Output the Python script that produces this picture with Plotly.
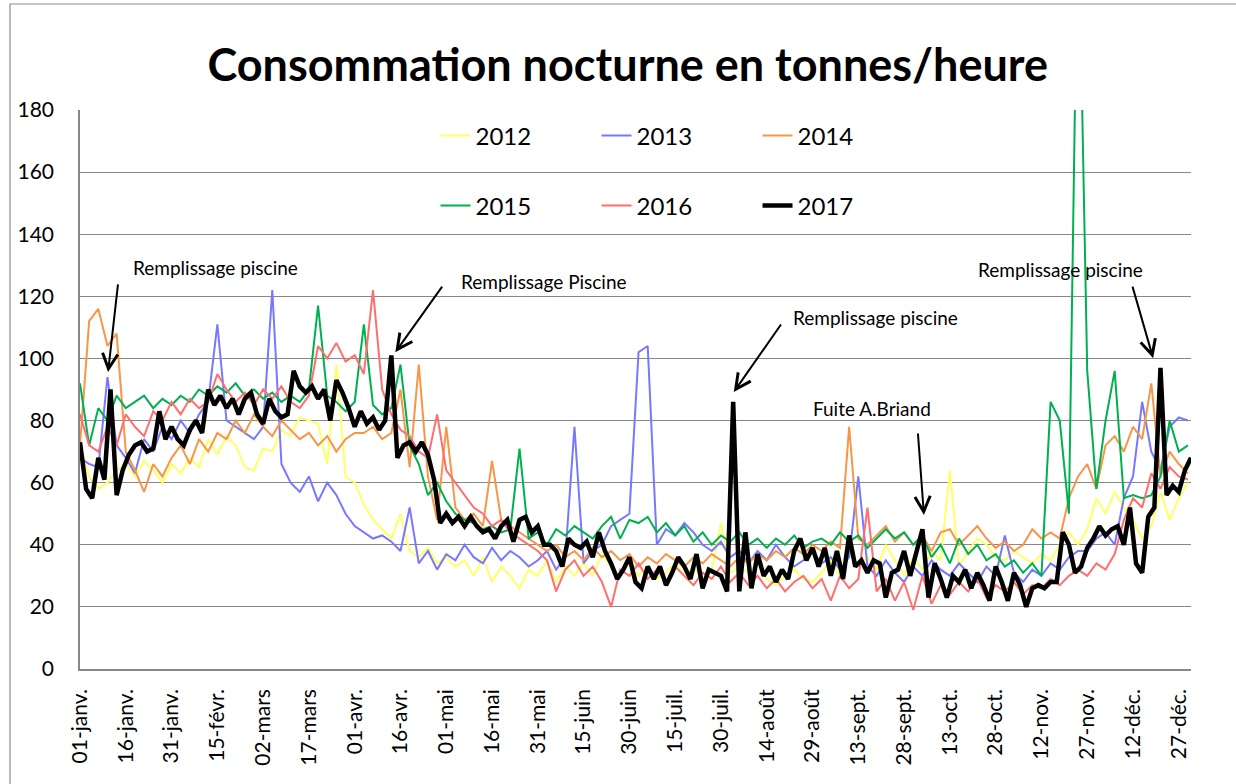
import plotly.graph_objects as go

# ---------------- data ----------------
tick_days = list(range(0, 361, 15))
tick_labels = ["01-janv.", "16-janv.", "31-janv.", "15-févr.", "02-mars", "17-mars",
               "01-avr.", "16-avr.", "01-mai", "16-mai", "31-mai", "15-juin", "30-juin",
               "15-juil.", "30-juil.", "14-août", "29-août", "13-sept.", "28-sept.",
               "13-oct.", "28-oct.", "12-nov.", "27-nov.", "12-déc.", "27-déc."]

days_3 = list(range(0, 364, 3))   # readings every 3 days (2012-2016)
days_2 = list(range(0, 365, 2))   # readings every 2 days (2017)

y2012 = [72, 62, 58, 60, 64, 66, 62, 67, 64, 60,
         66, 63, 68, 65, 74, 69, 75, 72, 65, 64,
         71, 70, 77, 75, 81, 80, 79, 66, 98, 62,
         60, 53, 48, 45, 42, 50, 38, 36, 39, 34,
         36, 33, 35, 30, 36, 28, 33, 30, 26, 32,
         30, 35, 28, 33, 30, 34, 30, 37, 33, 30,
         34, 30, 33, 29, 31, 34, 30, 33, 29, 32,
         47, 31, 33, 31, 34, 29, 27, 30, 32, 29,
         28, 31, 35, 30, 38, 33, 36, 32, 40, 35,
         30, 36, 32, 38, 35, 64, 33, 38, 42, 40,
         36, 35, 38, 36, 34, 37, 35, 40, 44, 40,
         45, 55, 50, 57, 52, 48, 42, 46, 57, 48,
         55, 60]

y2013 = [68, 66, 65, 94, 72, 68, 63, 74, 70, 78,
         74, 80, 76, 82, 86, 111, 80, 78, 76, 74,
         78, 122, 66, 60, 57, 62, 54, 60, 56, 50,
         46, 44, 42, 43, 41, 38, 52, 34, 38, 32,
         37, 35, 40, 36, 34, 39, 35, 38, 36, 33,
         35, 38, 32, 36, 78, 34, 38, 40, 46, 48,
         50, 102, 104, 40, 45, 43, 47, 44, 40, 38,
         41, 36, 38, 34, 38, 35, 40, 36, 33, 35,
         38, 34, 36, 32, 36, 62, 33, 30, 35, 31,
         28, 33, 30, 35, 32, 30, 34, 31, 28, 33,
         30, 43, 31, 28, 32, 30, 34, 32, 36, 38,
         38, 42, 44, 40, 55, 62, 86, 70, 64, 78,
         81, 80]

y2014 = [72, 112, 116, 104, 108, 70, 64, 57, 66, 62,
         68, 72, 66, 74, 70, 76, 74, 80, 76, 82,
         78, 75, 80, 77, 74, 76, 72, 75, 70, 74,
         76, 76, 78, 74, 76, 90, 65, 98, 62, 48,
         78, 52, 48, 50, 46, 67, 48, 46, 44, 42,
         40, 38, 40, 36, 38, 35, 39, 36, 38, 35,
         37, 33, 36, 34, 37, 35, 33, 36, 34, 37,
         35, 33, 36, 34, 37, 35, 38, 36, 39, 37,
         40, 38, 41, 39, 78, 42, 40, 43, 46, 41,
         44, 40, 43, 38, 44, 45, 40, 43, 46, 42,
         39, 41, 38, 40, 45, 42, 44, 42, 55, 62,
         66, 58, 72, 75, 70, 78, 74, 92, 62, 70,
         66, 63]

y2015 = [92, 72, 84, 80, 88, 84, 86, 88, 84, 87,
         85, 88, 86, 90, 88, 91, 89, 92, 88, 90,
         87, 89, 86, 88, 86, 90, 117, 88, 86, 83,
         86, 111, 85, 82, 84, 98, 72, 66, 56, 60,
         54, 50, 48, 47, 45, 46, 44, 45, 71, 42,
         44, 40, 45, 43, 46, 44, 42, 46, 49, 42,
         48, 47, 49, 44, 47, 43, 46, 41, 44, 40,
         43, 41, 44, 40, 42, 39, 42, 40, 43, 39,
         41, 42, 40, 44, 41, 43, 39, 42, 45, 42,
         44, 40, 43, 36, 40, 34, 42, 37, 40, 35,
         37, 33, 35, 31, 34, 30, 86, 80, 50, 250,
         96, 58, 80, 96, 55, 56, 55, 56, 62, 80,
         70, 72]

y2016 = [82, 72, 70, 78, 72, 82, 78, 75, 83, 80,
         86, 82, 87, 84, 86, 95, 90, 86, 89, 85,
         90, 87, 91, 86, 84, 88, 104, 100, 105, 99,
         101, 95, 122, 90, 82, 77, 75, 70, 68, 82,
         64, 60, 56, 52, 50, 46, 48, 44, 42, 40,
         38, 35, 25, 32, 35, 30, 33, 28, 20, 32,
         30, 34, 29, 32, 28, 33, 30, 27, 31, 29,
         33, 28, 31, 27, 30, 26, 29, 25, 28, 30,
         26, 29, 22, 30, 26, 29, 52, 25, 29, 22,
         28, 19, 30, 21, 27, 24, 28, 25, 29, 23,
         27, 25, 28, 24, 27, 26, 29, 27, 30, 32,
         30, 34, 32, 37, 48, 55, 52, 63, 58, 65,
         62, 61]

y2017 = [73, 58, 55, 68, 61, 90, 56, 64, 69, 72,
         73, 70, 71, 83, 74, 78, 74, 72, 77, 80,
         76, 90, 85, 88, 84, 87, 82, 87, 89, 82,
         79, 87, 83, 81, 82, 96, 91, 89, 91, 87,
         90, 80, 93, 89, 84, 78, 83, 79, 81, 77,
         80, 101, 68, 72, 73, 70, 73, 69, 61, 47,
         50, 47, 49, 46, 49, 46, 44, 45, 42, 46,
         48, 41, 48, 49, 44, 46, 40, 40, 38, 33,
         42, 40, 39, 41, 36, 44, 38, 34, 29, 32,
         36, 28, 26, 33, 29, 33, 27, 31, 36, 33,
         29, 37, 26, 32, 31, 30, 25, 86, 25, 44,
         26, 37, 30, 33, 28, 32, 29, 38, 42, 35,
         39, 33, 39, 30, 38, 29, 43, 33, 35, 31,
         35, 34, 23, 31, 32, 38, 30, 38, 45, 23,
         34, 29, 23, 30, 28, 32, 26, 31, 27, 22,
         33, 28, 22, 31, 27, 20, 26, 27, 26, 28,
         28, 44, 40, 31, 33, 39, 42, 46, 43, 45,
         46, 40, 52, 34, 31, 49, 52, 97, 56, 59,
         57, 64, 68]

for arr in (y2012, y2013, y2014, y2015, y2016):
    assert len(arr) == len(days_3), len(arr)
assert len(y2017) == len(days_2), len(y2017)

series = [
    ("2012", days_3, y2012, "#FFFF66", 2.0, "legend"),
    ("2013", days_3, y2013, "#7878FF", 2.0, "legend"),
    ("2014", days_3, y2014, "#F79646", 2.0, "legend"),
    ("2015", days_3, y2015, "#00B050", 2.0, "legend2"),
    ("2016", days_3, y2016, "#FF6F6F", 2.0, "legend2"),
    ("2017", days_2, y2017, "#000000", 4.5, "legend2"),
]

FONT = "Lato"

fig = go.Figure()
for name, xs, ys, color, width, lg in series:
    fig.add_trace(go.Scatter(x=xs, y=ys, mode="lines", name=name,
                             line=dict(color=color, width=width),
                             legend=lg, hoverinfo="x+y+name"))

# ---------------- annotations ----------------
notes = [
    # text, text_x, text_y, tail_x, tail_y, tip_x, tip_y
    ("Remplissage piscine", 44.3, 129.4, 12.5, 124.3, 9.2, 95.6),
    ("Remplissage Piscine", 152.0, 124.9, 119.0, 123.6, 103.3, 102.0),
    ("Remplissage piscine", 260.7, 113.3, 230.0, 111.4, 214.2, 89.2),
    ("Fuite A.Briand", 259.4, 84.0, 274.5, 76.3, 276.5, 49.6),
    ("Remplissage piscine", 321.4, 128.8, 344.7, 123.6, 351.6, 100.1),
]
annotations = []
for t, tx, ty, ax_, ay_, x_, y_ in notes:
    annotations.append(dict(x=tx, y=ty, xref="x", yref="y", text=t, showarrow=False,
                            font=dict(family=FONT, size=19, color="black")))
    annotations.append(dict(x=x_, y=y_, ax=ax_, ay=ay_, xref="x", yref="y",
                            axref="x", ayref="y", text="", showarrow=True,
                            arrowhead=5, arrowsize=1.5, arrowwidth=2,
                            arrowcolor="black", standoff=0, startstandoff=0))

grid_col = "#878787"

fig.update_layout(
    width=1236, height=784,
    margin=dict(l=80, r=45, t=110, b=115, autoexpand=False),
    paper_bgcolor="white", plot_bgcolor="white",
    font=dict(family=FONT, color="black"),
    title=dict(text="<b>Consommation nocturne en tonnes/heure</b>",
               x=0.493, xref="paper", xanchor="center",
               y=1 - 65 / 784, yref="container", yanchor="middle",
               font=dict(family=FONT, size=45, color="black")),
    xaxis=dict(range=[0, 364], tickmode="array", tickvals=tick_days, ticktext=tick_labels,
               tickangle=-90, showgrid=False, zeroline=False, showline=True,
               linecolor=grid_col, linewidth=1.5, ticks="",
               tickfont=dict(family=FONT, size=21, color="black"),
               ticklabelstandoff=10, fixedrange=True),
    yaxis=dict(range=[0, 180], dtick=20, tick0=0, showgrid=True, gridcolor=grid_col,
               gridwidth=1.3, zeroline=False, showline=True, linecolor=grid_col,
               linewidth=1.5, ticks="",
               tickfont=dict(family=FONT, size=21, color="black"),
               ticklabelstandoff=20, fixedrange=True),
    legend=dict(orientation="h", x=0.32, y=(669 - 136) / 559, xanchor="left",
                yanchor="middle", entrywidth=116, entrywidthmode="pixels",
                bgcolor="rgba(0,0,0,0)", font=dict(family=FONT, size=24, color="black"),
                traceorder="normal"),
    legend2=dict(orientation="h", x=0.32, y=(669 - 206) / 559, xanchor="left",
                 yanchor="middle", entrywidth=116, entrywidthmode="pixels",
                 bgcolor="rgba(0,0,0,0)", font=dict(family=FONT, size=24, color="black"),
                 traceorder="normal"),
    annotations=annotations,
    shapes=[dict(type="rect", xref="paper", yref="paper",
                 x0=(10 - 80) / 1111, x1=(1250 - 80) / 1111,
                 y0=(669 - 800) / 559, y1=(669 - 4) / 559,
                 line=dict(color="#8c8c8c", width=1.2), fillcolor="rgba(0,0,0,0)",
                 layer="below")],
)

fig.write_html("out.html", config={"displayModeBar": False},
               post_script="document.body.style.margin='0';")
